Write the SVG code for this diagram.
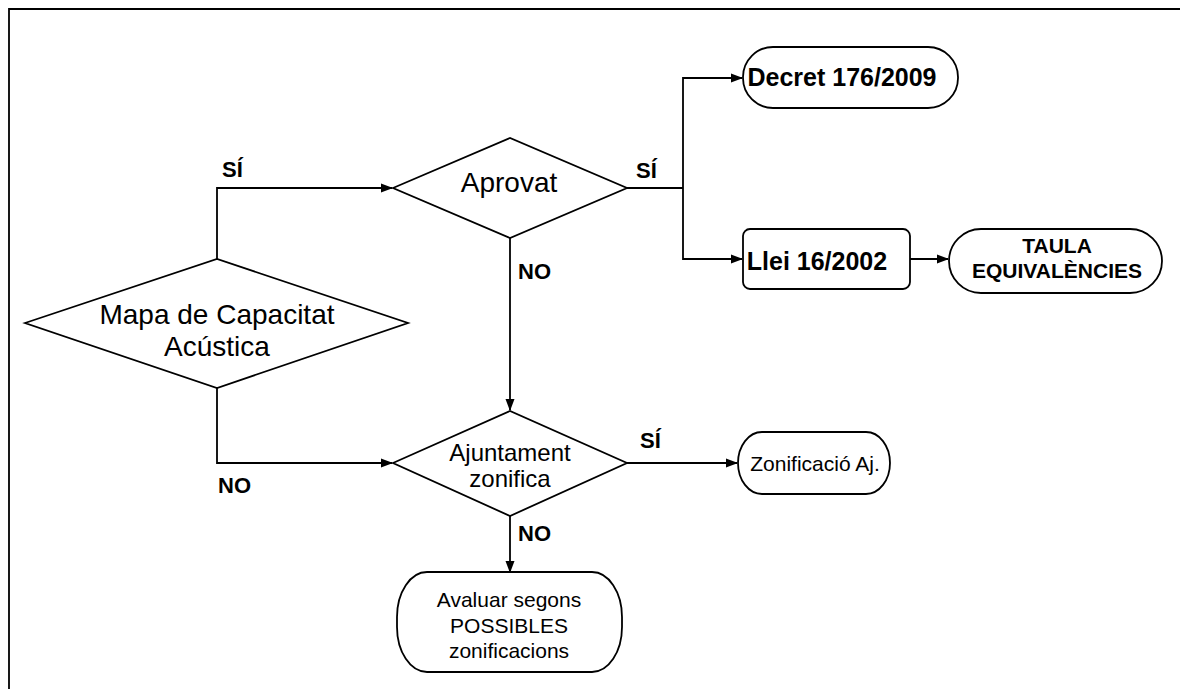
<svg xmlns="http://www.w3.org/2000/svg" width="1180" height="689" viewBox="0 0 1180 689">
<style>
.shape{fill:#fff;stroke:#000;stroke-width:1.8}
.conn{fill:none;stroke:#000;stroke-width:1.8}
.t{font-family:"Liberation Sans",Arial,sans-serif;fill:#000;text-anchor:middle}
.b{font-weight:bold}
.lbl{font-family:"Liberation Sans",Arial,sans-serif;font-weight:bold;font-size:22px;fill:#000}
</style>
<defs>
<marker id="arr" markerWidth="12" markerHeight="10" refX="11" refY="5" orient="auto" markerUnits="userSpaceOnUse">
<path d="M0,0.5 L12,5 L0,9.5 Z" fill="#000"/>
</marker>
</defs>
<rect x="0" y="0" width="1180" height="689" fill="#fff"/>
<path d="M9,689 L9,9 L1180,9" fill="none" stroke="#000" stroke-width="1.8"/>

<g id="connectors">
<path class="conn" d="M217,259 L217,188 L392,188" marker-end="url(#arr)"/>
<path class="conn" d="M217,388 L217,463 L392,463" marker-end="url(#arr)"/>
<path class="conn" d="M627,188 L683,188"/>
<path class="conn" d="M683,188 L683,78 L742,78" marker-end="url(#arr)"/>
<path class="conn" d="M683,188 L683,259 L742,259" marker-end="url(#arr)"/>
<path class="conn" d="M910,259 L948,259" marker-end="url(#arr)"/>
<path class="conn" d="M510,238 L510,410" marker-end="url(#arr)"/>
<path class="conn" d="M627,463 L737,463" marker-end="url(#arr)"/>
<path class="conn" d="M510,516 L510,572" marker-end="url(#arr)"/>
<text class="lbl" x="222" y="177">SÍ</text>
<text class="lbl" x="218" y="493">NO</text>
<text class="lbl" x="636" y="178">SÍ</text>
<text class="lbl" x="518" y="279">NO</text>
<text class="lbl" x="640" y="448">SÍ</text>
<text class="lbl" x="518" y="541">NO</text>
</g>

<g id="mapa">
<polygon class="shape" points="25,323 217,259 408,323 217,388"/>
<text class="t" x="217" y="324" font-size="28">Mapa de Capacitat</text>
<text class="t" x="217" y="356" font-size="28">Acústica</text>
</g>

<g id="aprovat">
<polygon class="shape" points="393,188 510,138 627,188 510,238"/>
<text class="t" x="509" y="192" font-size="28">Aprovat</text>
</g>

<g id="decret">
<rect class="shape" x="743" y="47" width="215" height="61" rx="30" ry="30"/>
<text class="t b" x="842" y="86" font-size="25">Decret 176/2009</text>
</g>

<g id="llei">
<rect class="shape" x="743" y="229" width="167" height="60" rx="7" ry="7"/>
<text class="t b" x="817" y="270" font-size="25">Llei 16/2002</text>
</g>

<g id="taula">
<rect class="shape" x="949" y="229" width="213" height="64" rx="32" ry="32"/>
<text class="t b" x="1057" y="253" font-size="21">TAULA</text>
<text class="t b" x="1057" y="278" font-size="21">EQUIVALÈNCIES</text>
</g>

<g id="ajuntament">
<polygon class="shape" points="393,463 510,411 627,463 510,516"/>
<text class="t" x="510" y="461" font-size="24">Ajuntament</text>
<text class="t" x="510" y="487" font-size="24">zonifica</text>
</g>

<g id="zonificacio">
<rect class="shape" x="738" y="432" width="152" height="62" rx="24" ry="31"/>
<text class="t" x="815" y="471" font-size="21">Zonificació Aj.</text>
</g>

<g id="avaluar">
<rect class="shape" x="397" y="572" width="225" height="100" rx="30" ry="45"/>
<text class="t" x="509" y="607" font-size="21">Avaluar segons</text>
<text class="t" x="509" y="633" font-size="21">POSSIBLES</text>
<text class="t" x="509" y="658" font-size="21">zonificacions</text>
</g>
</svg>
